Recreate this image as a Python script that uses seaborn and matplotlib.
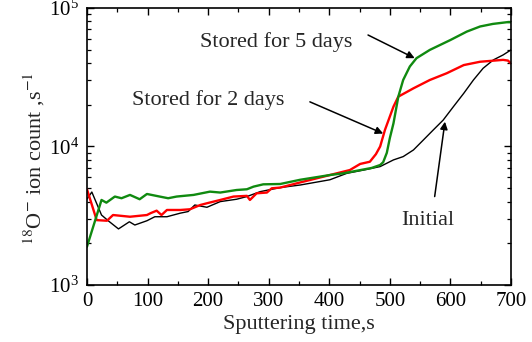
import numpy as np
import pandas as pd
import matplotlib
matplotlib.use("Agg")
import matplotlib.pyplot as plt
from matplotlib.ticker import LogLocator, LogFormatterMathtext, MultipleLocator, NullFormatter
import seaborn as sns

# Sputtering time (s) and 18O- ion count (s^-1) for each sample
t_initial = [0, 8, 24, 35, 52, 70, 79, 99, 112, 132, 154, 167, 178, 198, 220, 247, 264,
             286, 319, 352, 401, 429, 457, 484, 506, 522, 539, 555, 572, 588, 605, 622,
             638, 654, 671, 687, 700]
c_initial = [4170, 4690, 3200, 2910, 2540, 2860, 2710, 2910, 3110, 3110, 3300, 3390, 3780,
             3640, 4000, 4160, 4350, 4720, 5050, 5270, 5750, 6400, 6760, 7160, 8000, 8450,
             9440, 11100, 13200, 15500, 19400, 24200, 30200, 36700, 42200, 45800, 49800]

t_2days = [0, 16, 33, 43, 71, 99, 105, 115, 123, 132, 154, 170, 187, 198, 220, 242, 264,
           269, 280, 297, 305, 319, 352, 401, 434, 451, 467, 477, 484, 492, 506, 514, 539,
           566, 594, 622, 649, 687, 695, 700]
c_2days = [4910, 2940, 2910, 3200, 3110, 3200, 3300, 3440, 3200, 3480, 3480, 3520, 3780,
           3890, 4110, 4350, 4400, 4110, 4590, 4650, 4990, 5050, 5500, 6220, 6760, 7480,
           7760, 8800, 10000, 13200, 19400, 22900, 26300, 30200, 33800, 38700, 40900,
           42200, 41700, 39800]

t_5days = [0, 24, 32, 46, 57, 71, 87, 99, 120, 134, 148, 176, 203, 220, 247, 264, 275, 291,
           319, 352, 401, 423, 470, 484, 489, 495, 500, 506, 514, 522, 533, 544, 566, 600,
           627, 649, 670, 693, 700]
c_5days = [1890, 4110, 3930, 4350, 4230, 4470, 4160, 4540, 4350, 4230, 4350, 4470, 4720,
           4650, 4850, 4910, 5130, 5330, 5360, 5750, 6220, 6400, 7000, 7350, 7700, 9000,
           11500, 14700, 22900, 30200, 37800, 43400, 49800, 58700, 67500, 73500, 76700,
           78900, 78900]

x_ticks = [0, 100, 200, 300, 400, 500, 600, 700]

sns.set_theme(style="ticks")
plt.rcParams["font.family"] = ["Liberation Serif", "DejaVu Serif"]
plt.rcParams["mathtext.fontset"] = "stix"

fig = plt.figure(figsize=(5.32, 3.42), dpi=100)
ax = fig.add_axes([0.1635, 0.1667, 0.797, 0.81])

sns.lineplot(x=t_initial, y=c_initial, ax=ax, color="black", lw=1.0)
sns.lineplot(x=t_2days, y=c_2days, ax=ax, color="#ff0000", lw=1.7)
sns.lineplot(x=t_5days, y=c_5days, ax=ax, color="#108a10", lw=1.7)

ax.set_yscale("log")
ax.set_xlim(0, 700)
ax.set_ylim(1e3, 1e5)
ax.set_xticks(x_ticks)
ax.xaxis.set_minor_locator(MultipleLocator(50))
ax.yaxis.set_major_locator(LogLocator(base=10))
ax.yaxis.set_major_formatter(LogFormatterMathtext())
ax.yaxis.set_minor_locator(LogLocator(base=10, subs=np.arange(2, 10)))
ax.yaxis.set_minor_formatter(NullFormatter())

for s in ax.spines.values():
    s.set_linewidth(1.2)
    s.set_color("black")
    s.set_visible(True)

ax.tick_params(which="both", direction="in", top=True, right=True, colors="black")
ax.tick_params(which="major", length=5, width=1.0, labelsize=15, pad=5)
ax.tick_params(which="minor", length=3, width=0.9)
ax.tick_params(axis="y", which="major", pad=6)

ax.set_xlabel("Sputtering time,s", fontsize=16, labelpad=3)
ax.set_ylabel(r"$^{18}$O$^{-}$ ion count ,s$^{-1}$", fontsize=16)
ax.yaxis.set_label_coords(-0.094, 0.458)

arrow = dict(arrowstyle="-|>", color="black", lw=1.1, mutation_scale=11, shrinkA=0, shrinkB=0)
ax.annotate("", xy=(541, 43400), xytext=(464, 63800), arrowprops=arrow)
ax.text(313, 56800, "Stored for 5 days", ha="center", va="center", fontsize=16)
ax.annotate("", xy=(489, 12400), xytext=(368, 21000), arrowprops=arrow)
ax.text(200, 21700, "Stored for 2 days", ha="center", va="center", fontsize=16)
ax.annotate("", xy=(591, 15100), xytext=(574, 4350), arrowprops=arrow)
ax.text(563, 2940, "Initial", ha="center", va="center", fontsize=16)

fig.savefig("out.png", dpi=100)
